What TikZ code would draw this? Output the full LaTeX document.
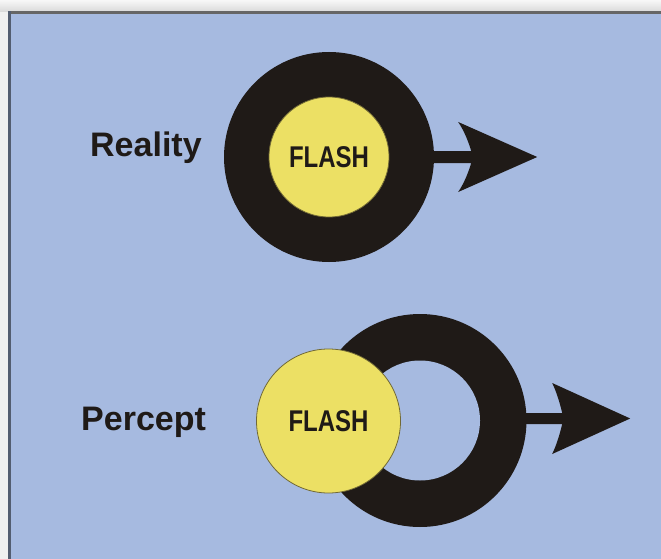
\documentclass[tikz,border=0pt]{standalone}
\usepackage{fontspec}
\setmainfont{Liberation Sans}
\definecolor{bgblue}{HTML}{A6BAE0}
\definecolor{flashy}{HTML}{ECE064}
\definecolor{ink}{HTML}{1F1A17}
\begin{document}
\begin{tikzpicture}[x=1pt,y=-1pt,
  flash/.style={circle, fill=flashy, draw=ink!60!flashy, line width=0.8pt, inner sep=0pt, font=\bfseries\fontsize{30}{30}\selectfont, text=ink},
  ring/.style={circle, fill=ink, inner sep=0pt, minimum size=#1},
  lbl/.style={anchor=base west, inner sep=0pt, font=\bfseries\fontsize{34}{40}\selectfont, text=ink},
  arrowfill/.style={fill=ink}]
\useasboundingbox (0,0) rectangle (661,559);
% frame
\shade[top color=white!97!black, bottom color=white!85!black] (0,0) rectangle (661,12);
\fill[white!94!black] (0,12) rectangle (9,559);
\fill[bgblue] (9,12) rectangle (661,559);
\fill[black!60] (8,11.5) rectangle (661,14);
\fill[black!50!bgblue] (8,11.5) rectangle (10.5,559);
% Reality
\node[lbl] (real) at (90,157) {Reality};
\node[ring=210pt] (ring1) at (329,157) {};
\node[flash, minimum size=120pt] (flash1) at (329,157) {\scalebox{0.8}[1]{FLASH}};
\begin{scope}[shift={(ring1.east)}]
  \fill[arrowfill] (-10,-6) -- (37,-6) .. controls (34,-16) and (30,-26) .. (24,-35)
    -- (103,0) -- (24,35) .. controls (30,26) and (34,16) .. (37,6) -- (-10,6) -- cycle;
\end{scope}
% Percept
\node[lbl] (perc) at (81,430) {Percept};
\node[ring=213pt] (ring2) at (420,420.5) {};
\fill[bgblue] (ring2.center) circle[radius=60pt];
\node[flash, minimum size=144pt] (flash2) at (328.5,421) {\raisebox{-3pt}{\scalebox{0.8}[1]{FLASH}}};
\begin{scope}[shift={(ring2.east)}]
  \fill[arrowfill] (-10,-7.5) -- (35.5,-7.5) .. controls (33,-18) and (30,-28) .. (25.5,-37.5)
    -- (103.5,-2) -- (25.5,33.5) .. controls (30,24) and (33,14) .. (35.5,3.5) -- (-10,3.5) -- cycle;
\end{scope}
\end{tikzpicture}
\end{document}
